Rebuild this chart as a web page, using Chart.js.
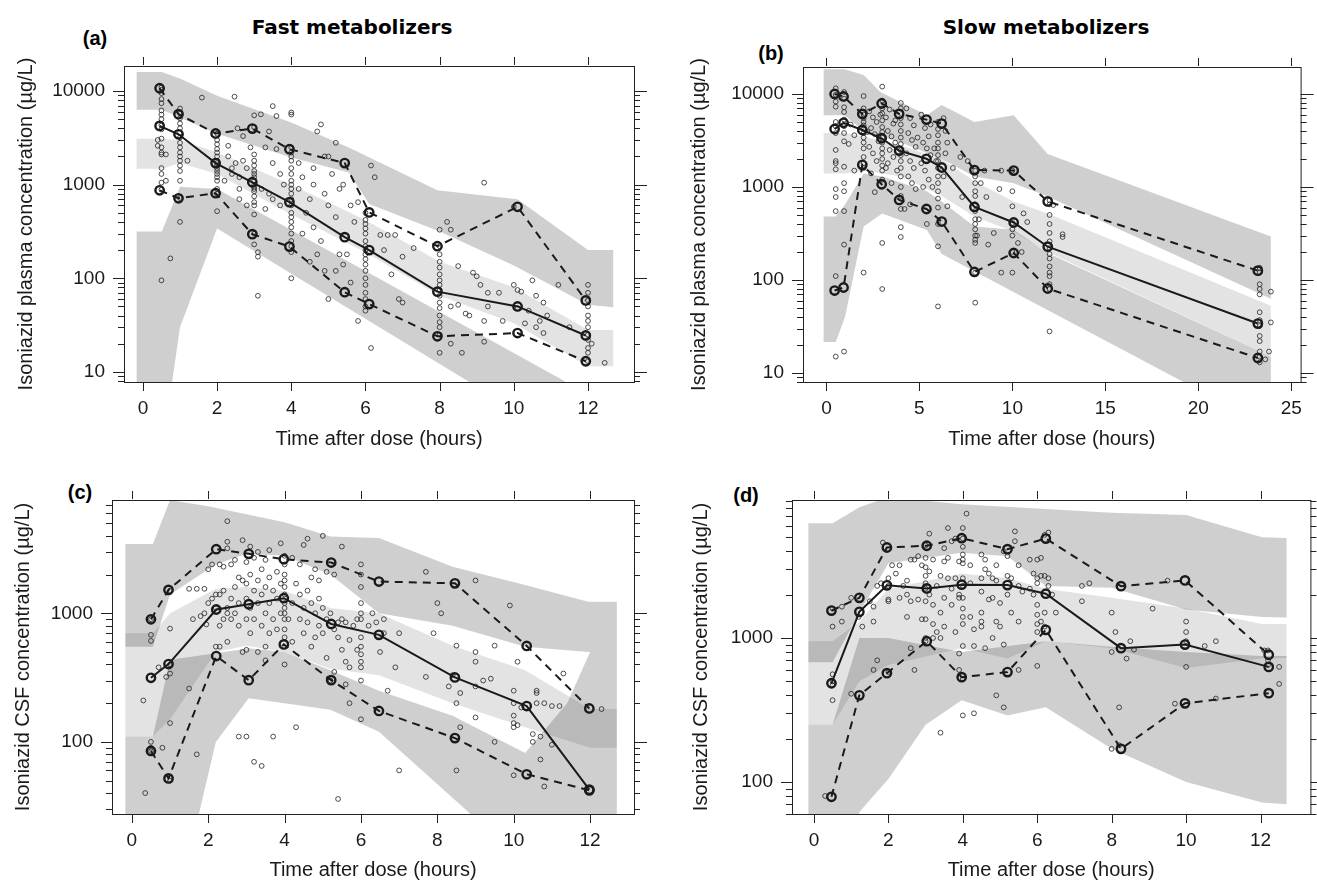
<!DOCTYPE html>
<html>
<head>
<meta charset="utf-8">
<script src="https://cdn.jsdelivr.net/npm/chart.js@4.4.1/dist/chart.umd.min.js"></script>
<style>
body { margin: 0; background: #fff; }
#page { position: relative; width: 1317px; height: 882px; overflow: hidden; font-family: "Liberation Sans", Arial, sans-serif; }
canvas { position: absolute; }
.lab { position: absolute; font-family: "Liberation Sans", Arial, sans-serif; font-weight: bold; font-size: 20px; transform: translate(-50%, -50%); }
.col { position: absolute; font-family: "DejaVu Sans", sans-serif; font-weight: bold; font-size: 20px; transform: translate(-50%, -50%); white-space: nowrap; }
</style>
</head>
<body>
<div id="page">
  <div class="col" style="left:352px;top:27px">Fast metabolizers</div>
  <div class="col" style="left:1046px;top:27px">Slow metabolizers</div>
  <div class="lab" style="left:95px;top:38px">(a)</div>
  <div class="lab" style="left:771px;top:53px">(b)</div>
  <div class="lab" style="left:80px;top:492px">(c)</div>
  <div class="lab" style="left:746px;top:495px">(d)</div>
  <canvas id="ca" width="658" height="452" style="left:0;top:0"></canvas>
  <canvas id="cb" width="659" height="452" style="left:658px;top:0"></canvas>
  <canvas id="cc" width="658" height="430" style="left:0;top:452px"></canvas>
  <canvas id="cd" width="659" height="430" style="left:658px;top:452px"></canvas>
</div>
<script>
// ---- tick labels ----
const xTicksFast = [0, 2, 4, 6, 8, 10, 12];
const xTicksSlow = [0, 5, 10, 15, 20, 25];
const yTicksPlasma = [10, 100, 1000, 10000];
const yTicksCsf = [100, 1000];

// ---- (a) fast, plasma ----
const aMedian = [[0.45,4240],[0.96,3450],[1.96,1700],[2.95,1060],[3.95,650],[5.44,275],[6.1,200],[7.94,72],[10.1,50],[11.94,24.5]];
const aP95 = [[0.45,10700],[0.96,5660],[1.96,3520],[2.95,3970],[3.95,2390],[5.44,1700],[6.1,505],[7.94,220],[10.1,580],[11.94,58]];
const aP05 = [[0.45,870],[0.96,715],[1.96,810],[2.95,296],[3.95,218],[5.44,71],[6.1,53],[7.94,24],[10.1,26],[11.94,13]];
const aBandHigh = [[-0.17,16000],[0.51,16000],[1.0,13600],[2.0,8900],[4.0,4600],[5.55,2500],[7.94,870],[10.1,700],[12.0,200],[12.68,200],
  [12.68,49],[12.0,52],[10.0,137],[8.0,315],[6.1,620],[5.55,1350],[4.0,1950],[2.0,3500],[0.51,6300],[-0.17,6300]];
const aBandMid = [[-0.17,3100],[0.51,3100],[1.0,3000],[2.0,2200],[4.0,1000],[6.0,420],[8.0,150],[10.0,80],[12.0,28],[12.68,28],
  [12.68,11.5],[12.0,11.5],[10.0,33],[8.0,65],[6.0,190],[4.0,480],[2.0,1300],[1.0,1700],[0.51,1480],[-0.17,1480]];
const aBandLow = [[-0.17,316],[0.51,316],[1.0,950],[2.0,900],[11.34,8.1],[13.5,1],
  [13.5,0.3],[8.8,7.8],[2.0,340],[1.0,30],[0.77,7],[0.77,1],[-0.17,1]];
const aObs = [
  [0.5,[10900,10300,9500,8200,7400,6200,5600,5000,4300,3900,3100,2500,2200,2100,1500,1300,1050,880,95]],
  [0.4,[3000,2600]],[0.62,[2100,1100]],[0.74,[163]],
  [1.0,[6500,5800,5100,4500,4000,3600,3200,2800,2500,2200,2000,1800,1600,1400,1100,720,400]],
  [1.2,[1800]],[1.59,[8500]],
  [2.0,[3500,3000,2700,2400,2200,2000,1800,1700,1600,1500,1400,1300,1200,1100,900,800,520]],
  [2.47,[8700]],[2.55,[4000]],[2.3,[2000,2600]],[2.4,[1500,1300]],[2.6,[1200,700,900]],[2.7,[1800,3300]],[2.8,[1500,600]],[2.2,[1100]],[2.5,[1700]],[2.9,[2500]],
  [3.0,[5500,4100,2100,1800,1600,1400,1300,1200,1100,1000,950,900,850,750,650,600,480,300,230]],
  [3.1,[65,170,190]],[3.18,[5640]],[3.5,[6900,1700,700]],[3.6,[5400,2400]],[3.4,[3700,800]],[3.3,[2500,550]],[3.7,[1300,600]],[3.2,[900]],[3.8,[1000]],
  [4.0,[5900,5600,2500,2200,2000,1800,1500,1300,1100,1000,900,800,700,600,500,450,400,350,300,250,220,190,100]],
  [4.2,[900,1700]],[4.3,[1200,300]],[4.5,[700,150]],[4.6,[1500,350,1000]],[4.7,[3700,180]],[4.8,[4400,250]],[4.9,[2000,800,120]],[4.4,[500]],
  [5.0,[2000,600,60]],[5.2,[2800,450,120]],[5.3,[180,900]],[5.1,[1300]],[5.4,[1000,140]],[5.6,[600,90]],[5.7,[400]],[5.5,[180]],[5.8,[650,35]],
  [6.0,[500,420,380,340,300,250,220,200,180,160,140,120,100,85,70,60,50,45]],
  [6.15,[1600,18]],[6.25,[1200]],[6.4,[290]],[6.6,[290]],[6.8,[290]],[7.0,[170,55]],[7.3,[210]],[6.9,[60]],[6.5,[200]],[6.7,[110]],
  [8.0,[330,220,180,150,130,110,95,85,75,65,55,48,40,34,30,25,16]],
  [8.2,[400]],[8.3,[330,50,20]],[8.5,[135,52]],[8.7,[42]],[8.9,[115]],[9.2,[1050,35,21]],[9.0,[105]],[9.1,[85]],[9.3,[70,50]],[8.6,[16]],[9.6,[70]],[9.7,[35]],[8.8,[40]],
  [10.0,[85,580]],[10.1,[48,75]],[10.2,[72]],[10.3,[33]],[10.5,[95]],[10.6,[65,30]],[10.7,[35]],[10.8,[55,26]],[11.2,[85]],[11.5,[30]],[10.4,[45]],[10.9,[40]],
  [12.0,[85,70,58,50,40,35,30,25,22,18,16,13]],[12.1,[20]],[12.45,[12.5]]
];

// ---- (b) slow, plasma ----
const bMedian = [[0.44,4200],[0.92,4900],[1.93,4100],[2.97,3340],[3.91,2460],[5.38,2010],[6.2,1620],[7.96,610],[10.07,415],[11.9,228],[23.2,34]];
const bP95 = [[0.44,10000],[0.92,9400],[1.93,6100],[2.97,7900],[3.91,6100],[5.38,5300],[6.2,4800],[7.96,1520],[10.07,1500],[11.9,700],[23.2,126]];
const bP05 = [[0.44,77],[0.92,83],[1.93,1730],[2.97,1070],[3.91,725],[5.38,580],[6.2,425],[7.96,122],[10.07,195],[11.9,81],[23.2,14.5]];
const bBandHigh = [[-0.15,18500],[0.97,18500],[2.0,16000],[2.9,10500],[5.4,5900],[6.2,7600],[7.96,5000],[10.07,5900],[11.9,2260],[23.9,293],
  [23.9,63],[11.9,790],[10.07,1100],[7.96,1300],[6.2,2000],[4.0,3000],[2.0,4000],[0.97,5900],[-0.15,5900]];
const bBandMid = [[-0.15,3800],[0.97,3800],[2.0,3500],[4.0,2800],[6.2,2000],[7.96,1150],[10.07,700],[11.9,520],[23.9,53],
  [23.9,15],[11.9,200],[10.07,330],[7.96,480],[6.2,800],[4.0,1300],[2.0,1500],[0.97,1400],[-0.15,1400]];
const bBandLow = [[-0.15,480],[0.5,480],[1.0,650],[2.0,1400],[3.0,1300],[5.4,900],[6.2,700],[7.96,375],[10.07,346],[11.9,195],[23.9,15],
  [23.9,1],[19.2,8],[6.2,190],[5.4,345],[3.0,520],[2.0,375],[1.0,40],[0.5,21.5],[-0.15,21.5]];
const bObs = [
  [0.5,[11500,9800,8300,7300,5000,4500,3800,2500,1900,1800,1550,950,780,550,110,15]],
  [0.95,[10500,8900,7200,6400,5300,4500,3800,3100,1650,1100,900,550,240,17]],
  [1.3,[4700]],[1.5,[3600,1500]],[1.2,[2900]],
  [2.0,[9500,7000,6000,5500,5000,4600,4200,3800,3400,3000,2600,2100,1800,1600,120]],
  [2.3,[6500,2700]],[2.5,[5600,2300]],[2.7,[5000,1900]],[2.4,[4300,1400]],[2.6,[3700,880]],[2.8,[3100,3500]],[2.9,[6000]],[2.2,[3900]],
  [3.0,[12000,8500,7000,6200,5200,4400,3900,3400,3000,2600,2300,2000,1700,1500,1200,250,80]],
  [3.2,[5600,1600]],[3.4,[6800,2500]],[3.6,[4800,2100]],[3.3,[4000,1800]],[3.5,[3500,1100]],[3.7,[3000,5200]],[3.8,[1500]],[3.9,[2600]],
  [4.0,[8000,7000,5500,4700,4000,3400,2900,2500,2200,1900,1600,1300,1000,800,580,370,290]],
  [4.3,[7000,2300]],[4.5,[5500,1900,650]],[4.7,[4600,1600]],[4.4,[3800,1300]],[4.6,[3200,1100]],[4.8,[2700,950]],[4.9,[3400]],[4.2,[580]],
  [5.1,[6000,1800]],[5.3,[4300,1500]],[5.5,[3500,1200]],[5.2,[3000,1000]],[5.4,[2600,400]],[5.6,[2200,4700]],[5.7,[1000]],[5.9,[1900]],[5.8,[2600]],
  [6.0,[5000,4200,3600,3000,2600,2200,1900,1600,1300,1100,900,750,600,400,230,52]],
  [6.3,[5500,1300]],[6.4,[4000,2300]],[6.5,[3000,620]],[6.8,[1600]],[7.2,[2100]],[7.3,[780]],[7.6,[1900]],
  [8.0,[1500,1300,1100,900,800,650,550,450,400,350,300,270,250,120,57]],
  [8.3,[1100]],[8.6,[780]],[8.7,[240]],[8.5,[1500]],[9.0,[320]],[9.3,[950]],[9.4,[1500,120]],[8.2,[450]],[8.1,[300]],
  [10.0,[1500,900,620,410,350,300,200,120]],[10.3,[250]],[10.6,[520]],[10.8,[420]],[10.5,[200]],
  [12.0,[720,650,500,400,320,260,220,190,170,140,120,110,90,80,28]],[12.2,[640]],[12.7,[310,290]],
  [23.3,[135,120,90,80,70,45,37,32,25,22,17,15,13]],[23.9,[75,35]],[23.8,[17]],[23.6,[14]]
];

// ---- (c) fast, CSF ----
const cMedian = [[0.5,315],[0.96,403],[2.21,1070],[3.06,1175],[3.98,1310],[5.22,826],[6.47,680],[8.46,317],[10.34,190],[11.98,42.5]];
const cP95 = [[0.5,898],[0.96,1520],[2.21,3150],[3.06,2900],[3.98,2630],[5.22,2480],[6.47,1765],[8.46,1710],[10.34,557],[11.98,182]];
const cP05 = [[0.5,85],[0.96,52],[2.21,465],[3.06,302],[3.98,573],[5.22,302],[6.47,174],[8.46,107],[10.34,56],[11.98,42]];
const cBandHigh = [[-0.17,3450],[0.55,3450],[1.0,7600],[2.0,6800],[4.0,5100],[5.2,3950],[6.47,3850],[8.4,2300],[10.3,1660],[11.95,1230],[12.7,1230],
  [12.7,500],[11.95,500],[10.3,550],[8.4,800],[6.47,1000],[5.2,2000],[4.0,2800],[3.0,2900],[2.2,2400],[1.0,1400],[0.55,550],[-0.17,550]];
const cBandMid = [[-0.17,700],[0.55,700],[1.0,1000],[2.2,1550],[3.0,1600],[4.0,1500],[5.2,1100],[6.47,1000],[8.4,560],[10.3,360],[12.0,180],[12.7,180],
  [12.7,90],[12.0,90],[10.3,130],[8.4,200],[6.47,330],[5.2,370],[4.0,500],[3.0,560],[2.2,500],[1.0,150],[0.55,110],[-0.17,110]];
const cBandLow = [[-0.17,110],[0.55,110],[1.0,435],[2.2,490],[3.06,535],[4.0,500],[5.2,360],[6.47,250],[8.4,160],[10.3,82],[11.4,200],[12.0,500],[12.7,500],
  [12.7,1],[8.9,1],[8.9,27],[6.47,120],[5.2,178],[3.06,218],[2.2,100],[1.75,27],[1.75,1],[-0.17,1]];
const cObs = [
  [0.3,[210]],[0.35,[40]],[0.5,[900,680,610,100,90,85]],[0.7,[380]],[0.8,[90]],[0.9,[320]],
  [1.0,[1500,760,400,340,140,50]],[1.5,[1550,260]],[1.7,[1550,80]],[1.6,[900]],[1.9,[1550,1000]],[1.95,[820]],[1.8,[950]],
  [2.0,[2200,1200]],[2.1,[2400,1300]],[2.2,[1100,1400,550]],[2.3,[550,800,1400,2400]],[2.4,[900,1500,2300]],[2.5,[3600,3200,5200,1100,1000,600]],
  [2.6,[1300,2400,900]],[2.7,[1000,1600,2600]],[2.8,[1900,1200,800,110]],[2.9,[1800,3700,500]],
  [3.0,[110,520,900,1300,1700,2500]],[3.1,[2000,1100,700,3300]],[3.2,[1500,2700,900,70]],[3.3,[1200,1800,3000,500]],[3.4,[65,800,1400,2200]],
  [3.5,[1000,1600,2600,430,550]],[3.6,[700,1200,1900,3100]],[3.7,[110,900,1500]],[3.8,[1300,2100,750]],[3.9,[1700,3500,1000]],
  [4.0,[2800,2400,2000,1800,1600,1400,1200,1100,1000,900,750,650,400]],
  [4.1,[900]],[4.2,[1200,600,2700]],[4.3,[1700,130]],[4.4,[900,1400,2400]],[4.5,[3400,1100,700]],[4.6,[1500,3800,850]],[4.7,[1200,550,1900]],
  [4.8,[2200,1000,650]],[4.9,[800,1300,1800]],
  [5.0,[4000,1100,700]],[5.1,[900,450,2100]],[5.2,[300,1000]],[5.3,[750,350,2000]],[5.4,[850,650,36]],[5.5,[3300,520,900]],[5.6,[420,850,280]],
  [5.7,[620,380,200]],[5.8,[800]],[5.9,[520,900]],
  [6.0,[2400,2000,1600,1200,1000,900,650,550,480,420,380,300,150]],
  [6.2,[800]],[6.3,[1000]],[6.4,[850]],[6.5,[500]],[6.6,[900,700]],[6.7,[250]],[7.0,[60,700]],[6.9,[380]],[7.7,[320,2100]],[7.9,[700]],
  [8.0,[1200]],[8.1,[1000]],[8.3,[270]],[8.4,[330]],[8.5,[560,200,60]],[8.6,[240,130]],[9.0,[1800,500,420,270,155]],[9.2,[300]],[9.4,[310]],
  [9.5,[100,560]],[9.9,[1150]],
  [10.0,[250,200,160,140,130,55]],[10.1,[420,135]],[10.2,[185]],[10.5,[115,100]],[10.6,[250,240,200]],[10.7,[110,73]],[10.8,[200,45]],
  [11.0,[190,95]],[11.2,[190]],[11.3,[340]],[12.3,[180]]
];

// ---- (d) slow, CSF ----
const dMedian = [[0.47,485],[1.22,1520],[1.96,2320],[3.03,2210],[3.97,2345],[5.2,2330],[6.23,2030],[8.25,850],[9.97,900],[12.22,630]];
const dP95 = [[0.47,1550],[1.22,1900],[1.96,4250],[3.03,4370],[3.97,4930],[5.2,4140],[6.23,4900],[8.25,2290],[9.97,2510],[12.22,765]];
const dP05 = [[0.47,79],[1.22,400],[1.96,570],[3.03,950],[3.97,535],[5.2,580],[6.23,1140],[8.25,170],[9.97,352],[12.22,414]];
const dBandHigh = [[-0.15,6250],[0.5,6250],[1.22,8100],[2.0,9500],[3.97,8500],[8.0,7400],[10.0,7130],[12.04,5000],[12.7,4950],
  [12.7,1390],[12.04,1400],[10.0,1580],[8.0,2230],[6.23,2300],[5.2,3700],[3.97,3900],[2.0,3300],[1.22,1500],[0.5,680],[-0.15,680]];
const dBandMid = [[-0.15,950],[0.5,950],[1.22,1300],[2.0,2200],[3.97,2800],[5.2,2600],[6.23,2200],[8.0,1900],[10.0,1600],[12.04,1250],[12.7,1250],
  [12.7,725],[12.04,720],[10.0,620],[8.0,850],[6.23,950],[5.2,720],[3.97,850],[2.0,650],[1.22,500],[0.5,250],[-0.15,250]];
const dBandLow = [[-0.15,250],[0.5,250],[1.22,1000],[2.0,1000],[3.97,800],[6.23,950],[8.0,870],[10.0,800],[12.04,750],[12.7,750],
  [12.7,70],[12.04,72],[10.0,100],[8.0,170],[6.23,330],[5.2,290],[3.97,370],[3.0,250],[2.0,105],[1.22,62],[1.22,1],[-0.15,1]];
const dObs = [
  [0.3,[80]],[0.5,[1600,1200,560,500,470,370]],[0.75,[1650,1300]],[1.0,[1900,410]],
  [1.2,[1400]],[1.3,[1200]],[1.6,[1650,1300,600]],[1.7,[2300,700]],[1.8,[2400]],[1.5,[1800]],[1.85,[4600]],
  [2.0,[2600,2300,1850,1800,580]],[2.1,[3200]],[2.2,[2800]],[2.3,[1900,3200]],[2.4,[2300]],[2.5,[2500,2000,1400]],[2.6,[1800,3500,850]],
  [2.7,[3500,600]],[2.8,[3700,1850]],[2.9,[3200,1350]],
  [3.0,[4400,3600,3100,2700,2400,2200,1800,1350,1000,950]],[3.1,[5300,2900,2000]],[3.2,[3500,1700,1250,1000]],[3.3,[2300,1100]],
  [3.4,[2700,1500,220,1000]],[3.5,[4200,3400,1900,1200]],[3.6,[5800,2600,3600]],[3.7,[2200,1700,4700]],[3.8,[2600,1100,4900]],[3.9,[3400,2000,1900,600,780]],
  [4.0,[5800,4900,4300,3800,3500,3300,2600,2300,1900,1600,1400,1250,880,550,520,290]],
  [4.1,[7300]],[4.2,[3200,2400,1400]],[4.3,[1150,880,300]],[4.5,[3800,2600,2100,1500,1200,1300]],[4.6,[3500,3000,850]],[4.7,[2800,1850]],
  [4.8,[2600,1900,1000]],[4.9,[3200,2500,1300,400]],
  [5.0,[1200,1750]],[5.1,[4000,900,330]],[5.2,[3700,2700,2000]],[5.3,[2600,1500]],[5.4,[4700,5500]],[5.5,[3200,2300,1300,600]],[5.6,[2100]],
  [5.8,[3500,2200]],[5.9,[2000,2800]],
  [6.0,[3500,2600,2400,1700,1450,1250,1100,640]],[6.1,[3600,2700,1300]],[6.2,[5200,2700,1500,1200]],[6.3,[5400,2300,2600]],[6.4,[2000]],[6.5,[1500]],
  [7.2,[2300,1800]],[7.4,[2400]],
  [8.0,[1500,800,170]],[8.1,[1100]],[8.2,[330,180]],[8.4,[720]],[8.5,[950]],[8.6,[830]],[9.1,[1600]],[9.5,[2500]],[9.7,[350]],
  [10.0,[1300,1100,630,950]],[10.5,[880]],[10.8,[950,380]],
  [12.1,[820]],[12.2,[820,700,650]],[12.5,[630,480]]
];

// ---- drawing ----
const darkBand = 'rgba(0,0,0,0.19)';
const lightBand = 'rgba(0,0,0,0.11)';
const ink = '#1a1a1a';

function pts(list) { return list.map(p => ({ x: p[0], y: p[1] })); }
function obsPts(groups) {
  const out = [];
  groups.forEach(g => g[1].forEach(c => out.push({ x: g[0], y: c })));
  return out;
}

// box and tick marks on all four sides, R/lattice style
const framePlugin = {
  id: 'frame',
  afterDraw(chart) {
    const { ctx, chartArea: a, scales: { x, y } } = chart;
    ctx.save();
    ctx.strokeStyle = '#222';
    ctx.lineWidth = 1;
    ctx.strokeRect(a.left + 0.5, a.top + 0.5, a.right - a.left, a.bottom - a.top);
    ctx.beginPath();
    x.ticks.forEach(t => {
      const px = Math.round(x.getPixelForValue(t.value)) + 0.5;
      ctx.moveTo(px, a.bottom); ctx.lineTo(px, a.bottom + 9);
      ctx.moveTo(px, a.top - 1); ctx.lineTo(px, a.top - 9);
    });
    y.ticks.forEach(t => {
      const py = Math.round(y.getPixelForValue(t.value)) + 0.5;
      const l = t.major ? 11 : 6;
      ctx.moveTo(a.left, py); ctx.lineTo(a.left - l, py);
      ctx.moveTo(a.right, py); ctx.lineTo(a.right + (t.major ? 13 : 6), py);
    });
    ctx.stroke();
    ctx.restore();
  }
};

function makePanel(id, p) {
  const canvas = document.getElementById(id);
  const W = canvas.width, H = canvas.height;
  const lineSet = (data, dash) => ({
    data: pts(data), borderColor: ink, borderWidth: 2, borderDash: dash,
    pointRadius: 4.2, pointBorderWidth: 2.4, pointBorderColor: ink, pointBackgroundColor: 'rgba(0,0,0,0)',
    fill: false, order: 1
  });
  const band = (data, color) => ({
    data: pts(data), borderWidth: 0, borderColor: 'rgba(0,0,0,0)', backgroundColor: color,
    pointRadius: 0, fill: 'shape', order: 3
  });
  new Chart(canvas, {
    type: 'line',
    data: {
      datasets: [
        band(p.high, darkBand),
        band(p.mid, lightBand),
        band(p.low, darkBand),
        { data: obsPts(p.obs), showLine: false, pointRadius: 2.4, pointBorderWidth: 0.8,
          pointBorderColor: '#222', pointBackgroundColor: 'rgba(0,0,0,0)', order: 2 },
        lineSet(p.p95, [8, 6]),
        lineSet(p.p05, [8, 6]),
        lineSet(p.median, [])
      ]
    },
    options: {
      responsive: false,
      animation: false,
      layout: { padding: { left: 0, top: p.top, right: W - p.right, bottom: 0 } },
      plugins: { legend: { display: false }, tooltip: { enabled: false } },
      scales: {
        x: {
          type: 'linear', min: p.xMin, max: p.xMax,
          grid: { display: false, drawTicks: false }, border: { display: false },
          afterBuildTicks: s => { s.ticks = p.xTicks.map(v => ({ value: v })); },
          afterFit: s => { s.height = H - p.bottom; },
          ticks: { padding: 15, color: ink, autoSkip: false, maxRotation: 0,
            font: { family: 'Liberation Sans', size: 19 } },
          title: { display: true, text: 'Time after dose (hours)', color: ink,
            font: { family: 'Liberation Sans', size: 20 }, padding: { top: 0, bottom: p.xTitlePad } }
        },
        y: {
          type: 'logarithmic', min: p.yMin, max: p.yMax,
          grid: { display: false, drawTicks: false }, border: { display: false },
          afterBuildTicks: s => {
            const t = [];
            p.yTicks.concat([p.yTicks[0] / 10]).sort((a, b) => a - b).forEach(d => {
              for (let k = 1; k <= 9; k++) {
                const v = k * d;
                if (v >= p.yMin && v <= p.yMax) t.push({ value: v, major: k === 1 && p.yTicks.includes(v) });
              }
            });
            s.ticks = t;
          },
          afterFit: s => { s.width = p.left; },
          ticks: { padding: 19, color: ink, autoSkip: false,
            font: { family: 'Liberation Sans', size: 19 },
            callback: (v) => p.yTicks.includes(v) ? String(v) : '' },
          title: { display: true, text: p.yTitle, color: ink,
            font: { family: 'Liberation Sans', size: 20 }, padding: { top: p.yTitlePad, bottom: 0 } }
        }
      }
    },
    plugins: [framePlugin]
  });
}

makePanel('ca', { left: 124, right: 634, top: 66, bottom: 382, xMin: -0.51, xMax: 13.24, xTicks: xTicksFast,
  yMin: 7.8, yMax: 18500, yTicks: yTicksPlasma, yTitle: 'Isoniazid plasma concentration (µg/L)', yTitlePad: 14, xTitlePad: 1,
  high: aBandHigh, mid: aBandMid, low: aBandLow, obs: aObs, median: aMedian, p95: aP95, p05: aP05 });
makePanel('cb', { left: 145, right: 654, top: 67, bottom: 382, xMin: -1.26, xMax: 25.5, xTicks: xTicksSlow,
  yMin: 8.0, yMax: 19500, yTicks: yTicksPlasma, yTitle: 'Isoniazid plasma concentration (µg/L)', yTitlePad: 29, xTitlePad: 1,
  high: bBandHigh, mid: bBandMid, low: bBandLow, obs: bObs, median: bMedian, p95: bP95, p05: bP05 });
makePanel('cc', { left: 112, right: 634, top: 48, bottom: 362, xMin: -0.52, xMax: 13.15, xTicks: xTicksFast,
  yMin: 27.5, yMax: 7600, yTicks: yTicksCsf, yTitle: 'Isoniazid CSF concentration (µg/L)', yTitlePad: 11, xTitlePad: 0,
  high: cBandHigh, mid: cBandMid, low: cBandLow, obs: cObs, median: cMedian, p95: cP95, p05: cP05 });
makePanel('cd', { left: 134, right: 654, top: 48, bottom: 362, xMin: -0.59, xMax: 13.34, xTicks: xTicksFast,
  yMin: 60, yMax: 9080, yTicks: yTicksCsf, yTitle: 'Isoniazid CSF concentration (µg/L)', yTitlePad: 31, xTitlePad: 0,
  high: dBandHigh, mid: dBandMid, low: dBandLow, obs: dObs, median: dMedian, p95: dP95, p05: dP05 });
</script>
</body>
</html>
